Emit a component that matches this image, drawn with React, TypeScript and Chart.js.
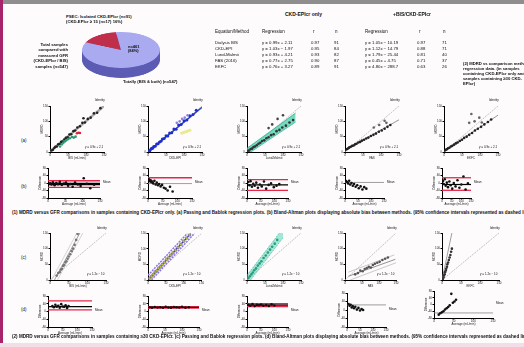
import React, { useEffect, useRef } from "react";
import { Chart, registerables } from "chart.js";
Chart.register(...registerables);

// ================= DATA =================
const PIE_LABELS = ["CKD-EPIcr only", "BIS & CKD-EPIcr"];
const PIE_VALUES = [16, 84];

const TABLE_METHODS = ["Dialysis BIS", "CKD-EPI", "Lund-Malmö", "FAS (2016)", "EKFC"];
const TABLE_REG_A = ["y = 0.99x + 2.11", "y = 1.03x − 1.97", "y = 0.93x + 4.21", "y = 0.77x + 2.75", "y = 0.76x + 3.27"];
const TABLE_R_A = ["0.97", "0.95", "0.93", "0.90", "0.89"];
const TABLE_N_A = ["91", "84", "82", "87", "91"];
const TABLE_REG_B = ["y = 1.05x − 10.19", "y = 1.12x − 14.79", "y = 1.79x − 25.44", "y = 0.45x + 4.75", "y = 4.80x − 288.7"];
const TABLE_R_B = ["0.97", "0.88", "0.81", "0.71", "0.63"];
const TABLE_N_B = ["71", "71", "40", "37", "26"];

const SC_TICKS = [0, 50, 100, 150];
const BA_TICKS = [-80, -60, -40, -20, 0, 20, 40, 60, 80];
const ID_X = [0, 150];
const ID_Y = [0, 150];

// Row 1 scatter
const S1_X = [4, 8, 12, 15, 19, 23, 27, 31, 35, 40, 44, 49, 54, 59, 65, 70, 76, 83, 90, 93, 97, 105, 113, 122, 131, 140];
const S1_Y = [5, 7, 13, 17, 18, 25, 26, 33, 34, 41, 46, 48, 57, 58, 68, 70, 80, 84, 95, 110, 96, 108, 112, 126, 128, 143];
const S1G_X = [28, 33, 37, 41, 45, 50, 55, 61, 66, 71];
const S1G_Y = [18, 25, 30, 34, 38, 42, 45, 49, 47, 50];
const S1R_X = [75, 79, 83];
const S1R_Y = [61, 63, 62];
const S1_REG_Y = [2, 150];

const S2_X = [2, 5, 8, 10, 13, 16, 20, 24, 28, 32, 36, 40, 45, 50, 55, 60, 66, 72, 78, 85, 92, 100, 108, 116, 125, 134];
const S2_Y = [3, 4, 9, 12, 12, 18, 19, 26, 27, 33, 35, 42, 44, 53, 52, 62, 63, 75, 74, 88, 90, 102, 104, 118, 122, 136];
const S2B_X = [80, 88, 95, 102, 110];
const S2B_Y = [95, 100, 108, 112, 120];
const S2_REG_Y = [1, 146];

const S3_X = [3, 6, 10, 14, 18, 22, 27, 32, 37, 42, 48, 54, 60, 67, 74, 82, 90, 98, 108, 118, 128];
const S3_Y = [4, 5, 10, 11, 16, 18, 22, 27, 30, 36, 38, 45, 48, 55, 58, 68, 72, 80, 86, 96, 104];
const S3O_X = [60, 70, 85, 100];
const S3O_Y = [78, 90, 108, 120];
const S3_BAND_X = [0, 135];
const S3_BAND_U = [12, 127];
const S3_BAND_L = [-8, 98];

const S4_X = [3, 6, 9, 12, 16, 20, 24, 28, 32, 37, 42, 47, 53, 59, 65, 72, 79, 86, 94, 102, 110, 118, 126];
const S4_Y = [8, 10, 12, 15, 17, 20, 21, 25, 27, 31, 33, 37, 40, 44, 47, 52, 56, 60, 66, 70, 76, 82, 88];
const S4O_X = [80, 95, 110, 115];
const S4O_Y = [80, 88, 102, 95];
const S4_REG_Y = [6, 105];

const S5_X = [2, 5, 8, 11, 15, 19, 23, 28, 33, 38, 44, 50, 56, 63, 70, 78, 86, 94, 103, 112, 122, 131];
const S5_Y = [5, 7, 9, 12, 14, 18, 20, 24, 28, 31, 36, 40, 46, 50, 56, 62, 70, 76, 82, 90, 98, 106];
const S5O_X = [70, 76, 85, 98, 105];
const S5O_Y = [95, 124, 100, 112, 96];
const S5_REG_Y = [3, 120];

// Row 1 Bland-Altman
const B1_X = [6, 10, 14, 19, 24, 29, 34, 40, 46, 52, 58, 64, 71, 78, 86, 94, 103, 112, 122, 133];
const B1_Y = [-2, -8, 4, -12, 0, -6, 6, -10, -3, 2, -14, -5, -20, 3, -8, -16, 25, -4, -28, -9];
const B1_LIM = [12, -23];
const B1_MEAN = [-2, -9];

const B2_X = [3, 6, 9, 12, 15, 18, 22, 26, 30, 34, 38, 43, 48, 54, 60, 67, 75, 84];
const B2_Y = [20, 10, 15, 4, 8, -2, 12, -8, 2, -12, -5, -18, -10, -25, -30, -40, -20, -45];
const B2_LIM = [28];
const B2_MEAN = [-3];

const B3_X = [5, 9, 13, 18, 23, 28, 34, 40, 47, 54, 62, 70, 79, 88, 98, 108, 118];
const B3_Y = [5, -12, 10, -20, -4, -15, 2, -25, -8, -18, 8, -30, -10, -2, -22, -14, -6];
const B3_LIM = [18, -39];
const B3_MEAN = [-10];

const B4_X = [4, 8, 12, 16, 20, 25, 30, 35, 41, 47, 53, 60, 67, 74, 82];
const B4_Y = [10, 5, -2, 12, -8, 0, -15, -5, -20, -12, -28, -18, -35, -22, -30];
const B4_MEAN = [3];

const B5_X = [5, 9, 14, 19, 25, 31, 38, 45, 53, 61, 70, 80, 90, 100, 111, 122, 134];
const B5_Y = [10, -5, 20, -15, 2, -22, 8, -12, -30, 0, -18, 15, -25, -8, 35, -35, -2];
const B5_LIM = [28, -39];
const B5_MEAN = [-8];

// Row 2 scatter
const T1_X = [18, 22, 26, 29, 32, 35, 38, 41, 44, 47, 50, 54, 58, 62, 66, 70, 74];
const T1_Y = [14, 22, 25, 33, 36, 45, 48, 56, 60, 68, 75, 82, 92, 100, 112, 128, 147];
const T1_REG_X = [12, 80];
const T1_BAND_X1 = [4, 72];
const T1_BAND_X2 = [20, 88];
const T1_REG_Y = [0, 150];

const T2_X = [5, 10, 15, 20, 25, 30, 35, 40, 46, 52, 58, 64, 70, 77, 84, 92, 100, 108, 116];
const T2_Y = [6, 12, 18, 26, 30, 38, 43, 50, 57, 66, 72, 80, 87, 96, 105, 115, 125, 135, 145];
const T2_REG_X = [0, 120];
const T2_REG_Y = [0, 150];
const T2_UP_X = [0, 110];
const T2_UP_Y = [15, 150];
const T2_LO_X = [10, 130];
const T2_LO_Y = [0, 150];

const T3_X = [4, 8, 12, 16, 20, 25, 30, 35, 40, 46, 52, 58, 64, 70, 77, 84];
const T3_Y = [6, 12, 18, 24, 31, 37, 46, 53, 60, 70, 78, 88, 97, 106, 116, 128];
const T3_BAND_X = [0, 100];
const T3_BAND_U = [15, 165];
const T3_BAND_L = [-15, 135];

const T4_X = [30, 38, 45, 52, 58, 64, 70, 76, 82, 88, 95, 102, 110, 118, 126];
const T4_Y = [18, 22, 30, 28, 35, 38, 42, 40, 48, 52, 55, 58, 64, 68, 72];
const T4_UP_X = [10, 145];
const T4_UP_Y = [25, 80];
const T4_LO_X = [15, 150];
const T4_LO_Y = [0, 55];
const T4_REG_X = [10, 148];
const T4_REG_Y = [12, 66];

const T5_X = [2, 4, 5, 7, 8, 10, 11, 13, 14, 16, 18, 20, 22, 24, 26];
const T5_Y = [3, 8, 14, 18, 25, 30, 36, 42, 50, 56, 64, 72, 80, 90, 100];
const T5_REG_X = [0, 26];
const T5_REG_Y = [0, 150];

// Row 2 Bland-Altman
const D1_X = [15, 20, 25, 30, 35, 40, 45, 50, 55, 60, 65, 70];
const D1_Y = [28, 22, 35, 25, 30, 20, 38, 26, 24, 32, 18, 28];
const D1_LIM = [55, 8];
const D1_MEAN = [25];

const D2_X = [5, 12, 20, 28, 36, 44, 52, 60, 68, 76, 84, 92, 100, 110, 120];
const D2_Y = [22, 20, 23, 21, 22, 19, 24, 21, 20, 23, 22, 21, 24, 20, 22];
const D2_LIM = [18, 25];
const D2_MEAN = [21.5];

const D3_X = [5, 12, 20, 28, 36, 44, 52, 60, 70, 80, 90, 100];
const D3_Y = [35, 30, 38, 28, 34, 32, 36, 30, 33, 29, 37, 31];
const D3_LIM = [40, 25];
const D3_MEAN = [33];

const D4_X = [6, 10, 14, 18, 22, 27, 32, 38, 44, 50, 56, 62];
const D4_Y = [28, 20, 25, 12, 18, 8, 15, 2, 10, -2, 5, 0];
const D4_MEAN = [24];

const D5_X = [12, 16, 20, 24, 28, 32, 36, 40, 44, 48, 52, 56];
const D5_Y = [-60, -52, -46, -40, -30, -22, -15, -5, 63, 10, 18, 28];
const D5_MEAN = [-50];

// ================= HELPERS =================
const zip = (xs: number[], ys: number[]) => xs.map((x, i) => ({ x, y: ys[i] }));
const pts = (xs: number[], ys: number[], color: string, extra: any = {}) => ({
  type: "scatter", data: zip(xs, ys), pointRadius: 1.3, pointBackgroundColor: color,
  pointBorderColor: color, pointBorderWidth: 0, showLine: false, ...extra,
});
const line = (xs: number[], ys: number[], color: string, width = 1, dash: number[] = [], extra: any = {}) => ({
  type: "line", data: zip(xs, ys), borderColor: color, borderWidth: width, borderDash: dash,
  pointRadius: 0, fill: false, tension: 0, ...extra,
});
const hlines = (vals: number[], xMax: number, color: string, width = 1) =>
  vals.map((v) => line([0, xMax], [v, v], color, width));

const YW = 10;
const XH = 8;
const PAD = 3;

type MiniProps = {
  left: number; top: number; w: number; h: number;
  ba?: boolean; datasets: any[]; xTitle: string; yTitle: string;
};

function Mini({ left, top, w, h, ba, datasets, xTitle, yTitle }: MiniProps) {
  const ref = useRef<HTMLCanvasElement>(null);
  useEffect(() => {
    const yt = ba ? BA_TICKS : SC_TICKS;
    const c = new Chart(ref.current!, {
      type: "scatter",
      data: { datasets: datasets as any },
      options: {
        animation: false, responsive: false, devicePixelRatio: 1,
        layout: { padding: { top: PAD, right: PAD, left: 0, bottom: 0 } },
        plugins: { legend: { display: false }, tooltip: { enabled: false } },
        scales: {
          x: {
            type: "linear", min: 0, max: 150,
            afterBuildTicks: (s: any) => { s.ticks = SC_TICKS.map((v) => ({ value: v })); },
            ticks: { font: { size: 3 }, color: "#222", padding: 0, maxRotation: 0 },
            grid: { display: true, drawOnChartArea: false, tickLength: 1.5, color: "#000" },
            border: { color: "#000", width: 1 },
            title: { display: true, text: xTitle, font: { size: 3 }, padding: 0, color: "#222" },
            afterFit: (s: any) => { s.height = XH; },
          },
          y: {
            type: "linear", min: yt[0], max: yt[yt.length - 1],
            afterBuildTicks: (s: any) => { s.ticks = yt.map((v) => ({ value: v })); },
            ticks: { font: { size: 3 }, color: "#222", padding: 0.5 },
            grid: { display: true, drawOnChartArea: false, tickLength: 1.5, color: "#000" },
            border: { color: "#000", width: 1 },
            title: { display: true, text: yTitle, font: { size: 3 }, padding: 0, color: "#222" },
            afterFit: (s: any) => { s.width = YW; },
          },
        },
      } as any,
    });
    return () => c.destroy();
  }, []);
  return (
    <canvas ref={ref} width={w + YW + PAD} height={h + PAD + XH}
      style={{ position: "absolute", left: left - YW, top: top - PAD }} />
  );
}

function PieLayer({ left, top, size, sy, colors }: any) {
  const ref = useRef<HTMLCanvasElement>(null);
  useEffect(() => {
    const c = new Chart(ref.current!, {
      type: "pie",
      data: { labels: PIE_LABELS, datasets: [{ data: PIE_VALUES, backgroundColor: colors, borderWidth: 0 }] },
      options: {
        animation: false, responsive: false, devicePixelRatio: 1, rotation: -65,
        plugins: { legend: { display: false }, tooltip: { enabled: false } },
        layout: { padding: 0 },
      } as any,
    });
    return () => c.destroy();
  }, []);
  return (
    <div style={{ position: "absolute", left, top, width: size, height: size, transform: `scaleY(${sy})`, transformOrigin: "0 0" }}>
      <canvas ref={ref} width={size} height={size} />
    </div>
  );
}

const T = (x: number, y: number, text: string, size = 5, extra: any = {}) => (
  <div style={{ position: "absolute", left: x, top: y, fontSize: size, lineHeight: 1.15, whiteSpace: "nowrap", ...extra }}>{text}</div>
);

const GRAY = "rgba(140,140,140,0.9)";
const ID = () => line(ID_X, ID_Y, "#aaa", 0.7, [2, 1]);

const R1S = [
  { left: 50, w: 55, ds: [pts(S1R_X, S1R_Y, "#e0203a"), pts(S1G_X, S1G_Y, "#2a9a70"), pts(S1_X, S1_Y, "#222"), line(ID_X, S1_REG_Y, "rgba(150,150,150,0.7)", 2.5), ID()] },
  { left: 148, w: 55, ds: [pts(S2B_X, S2B_Y, "#8a80e0"), pts(S2_X, S2_Y, "#1d2fc8", { pointRadius: 1.5 }), line(ID_X, S2_REG_Y, "#3040c0", 1.5), line([90, 120], [60, 72], "rgba(230,230,120,0.8)", 3), ID()] },
  { left: 247, w: 55, ds: [pts(S3O_X, S3O_Y, "#444"), pts(S3_X, S3_Y, "#333"), line(S3_BAND_X, S3_BAND_U, "#30b090", 0.8, [], { fill: "+1", backgroundColor: "rgba(70,205,170,0.75)" }), line(S3_BAND_X, S3_BAND_L, "#30b090", 0.8), ID()] },
  { left: 345, w: 55, ds: [pts(S4O_X, S4O_Y, "#666"), pts(S4_X, S4_Y, "#222"), line(ID_X, S4_REG_Y, GRAY, 1), ID()] },
  { left: 444, w: 55, ds: [pts(S5O_X, S5O_Y, "#666"), pts(S5_X, S5_Y, "#222"), line(ID_X, S5_REG_Y, GRAY, 1), ID()] },
];

const R1B = [
  { left: 48, w: 53, ds: [pts(B1_X, B1_Y, "#111"), ...hlines(B1_MEAN, 150, "#000", 1.2), ...hlines(B1_LIM, 150, "#e8264a", 1.3)] },
  { left: 148, w: 45, ds: [pts(B2_X, B2_Y, "#111"), ...hlines(B2_MEAN, 150, "#888", 0.8), ...hlines(B2_LIM, 150, "#e8264a", 1.3)] },
  { left: 247, w: 42, ds: [pts(B3_X, B3_Y, "#111"), ...hlines(B3_MEAN, 150, "#000", 1.2), ...hlines(B3_LIM, 150, "#e8264a", 1.3)] },
  { left: 345, w: 40, ds: [pts(B4_X, B4_Y, "#111"), ...hlines(B4_MEAN, 150, "#888", 0.8)] },
  { left: 442, w: 30, ds: [pts(B5_X, B5_Y, "#111"), ...hlines(B5_MEAN, 150, "#000", 1.2), ...hlines(B5_LIM, 150, "#e8264a", 1.3)] },
];

const R2S = [
  { left: 50, w: 57, ds: [pts(T1_X, T1_Y, "#777"), line(T1_REG_X, T1_REG_Y, "#888", 0.8), line(T1_BAND_X1, T1_REG_Y, "#bbb", 0.6), line(T1_BAND_X2, T1_REG_Y, "#bbb", 0.6), ID()] },
  { left: 148, w: 55, ds: [pts(T2_X, T2_Y, "#c8b838", { pointBorderColor: "#3a3ab0", pointBorderWidth: 0.4, pointRadius: 1.4 }), line(T2_REG_X, T2_REG_Y, "#2a2ab0", 1.2), line(T2_UP_X, T2_UP_Y, "#8878e0", 1.5, [2, 1]), line(T2_LO_X, T2_LO_Y, "#8878e0", 1.5, [2, 1]), ID()] },
  { left: 247, w: 55, ds: [pts(T3_X, T3_Y, "#2a9a80"), line(T3_BAND_X, T3_BAND_U, "#30b090", 0.6, [2, 1], { fill: "+1", backgroundColor: "rgba(90,215,180,0.55)" }), line(T3_BAND_X, T3_BAND_L, "#30b090", 0.6, [2, 1]), ID()] },
  { left: 345, w: 52, ds: [pts(T4_X, T4_Y, "#555"), line(T4_REG_X, T4_REG_Y, "#777", 0.8), line(T4_UP_X, T4_UP_Y, "#aaa", 0.6), line(T4_LO_X, T4_LO_Y, "#aaa", 0.6), ID()] },
  { left: 442, w: 58, ds: [pts(T5_X, T5_Y, "#333"), line(T5_REG_X, T5_REG_Y, "#888", 0.8), ID()] },
];

const R2B = [
  { left: 48, top: 295, h: 32, w: 45, ds: [pts(D1_X, D1_Y, "#111"), ...hlines(D1_MEAN, 150, "#000", 1.2), ...hlines(D1_LIM, 150, "#e8264a", 1.3)] },
  { left: 148, top: 295, h: 32, w: 52, ds: [pts(D2_X, D2_Y, "#111"), ...hlines(D2_MEAN, 150, "#000", 1), ...hlines(D2_LIM, 150, "#e8264a", 1.5)] },
  { left: 247, top: 295, h: 32, w: 42, ds: [pts(D3_X, D3_Y, "#111"), ...hlines(D3_MEAN, 150, "#000", 1.2), ...hlines(D3_LIM, 150, "#e8264a", 1.3)] },
  { left: 347, top: 292, h: 35, w: 40, ds: [pts(D4_X, D4_Y, "#111"), ...hlines(D4_MEAN, 150, "#888", 0.8)] },
  { left: 434, top: 290, h: 28, w: 60, ds: [pts(D5_X, D5_Y, "#111"), ...hlines(D5_MEAN, 150, "#888", 0.8)] },
];

const SC_X_TITLES = ["BIS (mL/min)", "CKD-EPI", "Lund-Malmö", "FAS", "EKFC"];

export default function App() {
  const pieLayers = [10, 8, 6, 4, 2];
  return (
    <div style={{ position: "fixed", left: 0, top: 0, width: 524, height: 347, background: "#fdfbfc", overflow: "hidden", fontFamily: '"Liberation Sans", Arial, sans-serif', color: "#111" }}>
      <div style={{ position: "absolute", left: 0, top: 0, width: 524, height: 4, background: "#8e8e8e" }} />
      <div style={{ position: "absolute", left: 0, top: 0, width: 3, height: 347, background: "#a8246a" }} />
      <div style={{ position: "absolute", left: 0, top: 343, width: 524, height: 4, background: "#f3dde6" }} />

      {/* pie */}
      {pieLayers.map((o) => (
        <PieLayer key={o} left={82} top={32 + o} size={78} sy={0.46} colors={["#7a1c30", "#5c5cb4"]} />
      ))}
      <PieLayer left={82} top={32} size={78} sy={0.46} colors={["#bf2f4c", "#a9aaf0"]} />
      {T(66, 15, "PSEC: Isolated CKD-EPIcr (n=91)", 4.2, { fontWeight: 700 })}
      {T(66, 20, "(CKD-EPIcr ≥ 15 (n=17) 16%)", 4.2, { fontWeight: 700 })}
      <div style={{ position: "absolute", left: 26, top: 42, width: 42, fontSize: 4.2, lineHeight: 1.3, textAlign: "right", fontWeight: 700 }}>
        Total samples compared with measured GFR (CKD-EPIcr / BIS) samples (n=547)
      </div>
      {T(128, 45, "n=461", 4, { fontWeight: 700 })}
      {T(128, 49, "(84%)", 4, { fontWeight: 700 })}
      {T(123, 80, "Totally (BIS & both) (n=547)", 4.2, { fontWeight: 700 })}

      {/* table */}
      {T(285, 12, "CKD-EPIcr only", 5, { fontWeight: 700 })}
      {T(393, 12, "+BIS/CKD-EPIcr", 5, { fontWeight: 700 })}
      {T(215, 29, "Equation/Method", 4.5)}
      {T(262, 29, "Regression", 4.5)}
      {T(313, 29, "r", 4.5)}
      {T(335, 29, "n", 4.5)}
      {T(365, 29, "Regression", 4.5)}
      {T(419, 29, "r", 4.5)}
      {T(443, 29, "n", 4.5)}
      {TABLE_METHODS.map((m, i) => {
        const y = 41 + i * 5.9;
        return (
          <React.Fragment key={m}>
            {T(215, y, m, 4.3)}
            {T(262, y, TABLE_REG_A[i], 4.3)}
            {T(311, y, TABLE_R_A[i], 4.3)}
            {T(334, y, TABLE_N_A[i], 4.3)}
            {T(365, y, TABLE_REG_B[i], 4.3)}
            {T(417, y, TABLE_R_B[i], 4.3)}
            {T(442, y, TABLE_N_B[i], 4.3)}
          </React.Fragment>
        );
      })}
      <div style={{ position: "absolute", left: 463, top: 61, width: 70, fontSize: 4.2, lineHeight: 1.2, fontWeight: 700 }}>
        (2) MDRD vs comparison method regression data. (in samples containing CKD-EPIcr only and all samples containing ≥30 CKD-EPIcr)
      </div>

      {/* row labels */}
      {T(21, 138, "(a)", 4.5)}
      {T(21, 184, "(b)", 4.5)}
      {T(21, 255, "(c)", 4.5)}
      {T(21, 307, "(d)", 4.5)}

      {R1S.map((p, i) => (
        <React.Fragment key={"r1s" + i}>
          <Mini left={p.left} top={105} w={p.w} h={47} datasets={p.ds} xTitle={SC_X_TITLES[i]} yTitle="MDRD" />
          {T(p.left + p.w - 10, 99, "Identity", 3)}
          {T(p.left + p.w - 20, 146, "y = 0.9x + 2.1", 3)}
        </React.Fragment>
      ))}
      {R1B.map((p, i) => (
        <React.Fragment key={"r1b" + i}>
          <Mini ba left={p.left} top={167} w={p.w} h={31} datasets={p.ds} xTitle="Average (mL/min)" yTitle="Difference" />
          {T(p.left + p.w + 2, 181, "Mean", 3)}
        </React.Fragment>
      ))}
      {T(12, 210, "(1) MDRD versus GFR comparisons in samples containing CKD-EPIcr only. (a) Passing and Bablok regression plots. (b) Bland-Altman plots displaying absolute bias between methods. (95% confidence intervals represented as dashed lines)", 4.6, { fontWeight: 700 })}

      {R2S.map((p, i) => (
        <React.Fragment key={"r2s" + i}>
          <Mini left={p.left} top={232} w={p.w} h={48} datasets={p.ds} xTitle={SC_X_TITLES[i]} yTitle="MDRD" />
          {T(p.left + p.w - 10, 227, "Identity", 3)}
          {T(p.left + p.w - 20, 273, "y = 1.2x − 10", 3)}
        </React.Fragment>
      ))}
      {R2B.map((p, i) => (
        <React.Fragment key={"r2b" + i}>
          <Mini ba left={p.left} top={p.top} w={p.w} h={p.h} datasets={p.ds} xTitle="Average (mL/min)" yTitle="Difference" />
          {T(p.left + p.w + 2, p.top + p.h / 2 - 2, "Mean", 3)}
        </React.Fragment>
      ))}
      {T(12, 334, "(2) MDRD versus GFR comparisons in samples containing ≥30 CKD-EPIcr. (c) Passing and Bablok regression plots. (d) Bland-Altman plots displaying absolute bias between methods. (95% confidence intervals represented as dashed lines)", 4.6, { fontWeight: 700 })}
    </div>
  );
}
